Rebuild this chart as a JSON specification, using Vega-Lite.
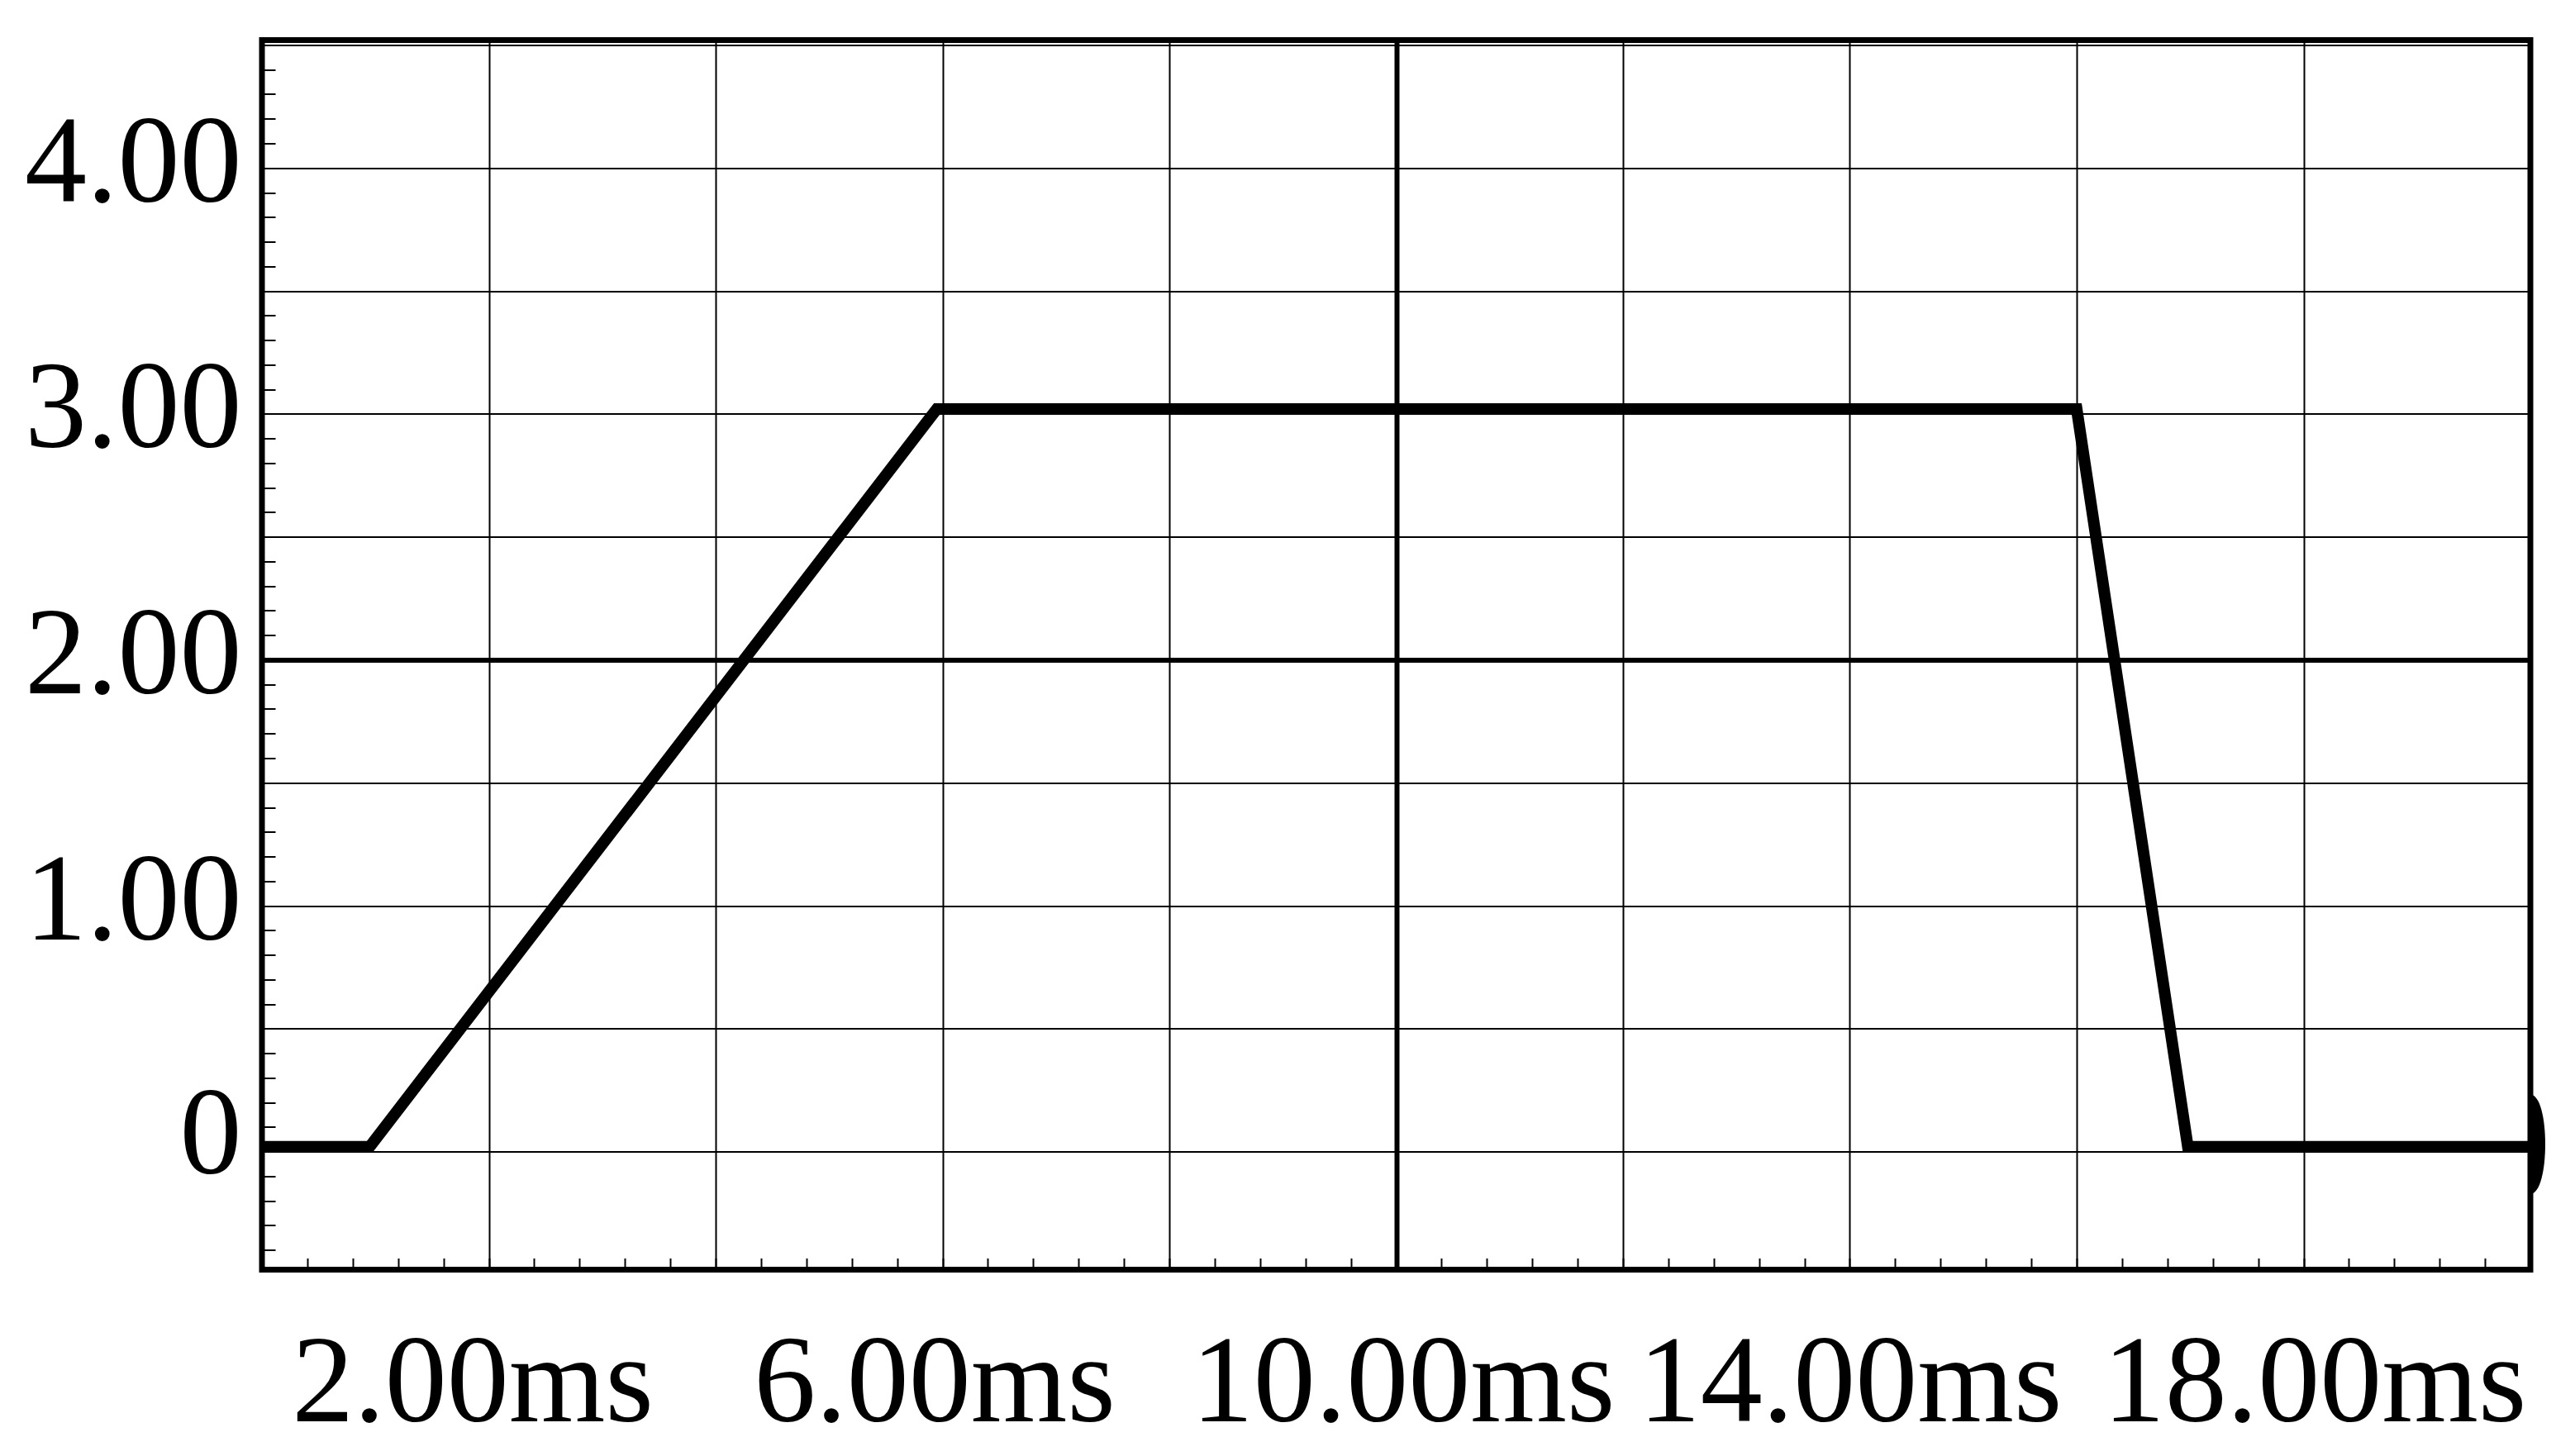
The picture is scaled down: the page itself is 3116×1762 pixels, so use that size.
{
  "$schema": "https://vega.github.io/schema/vega-lite/v6.json",
  "autosize": {"type": "none"},
  "padding": {"left": 317, "top": 48.5, "right": 54, "bottom": 225.5},
  "width": 2745,
  "height": 1488,
  "background": "white",
  "config": {
    "view": {"stroke": "black", "strokeWidth": 7},
    "axis": {"labelFont": "Liberation Serif", "labelFontSize": 150, "labelColor": "black", "domain": false, "labelLimit": 0}
  },
  "datasets": {
    "trace": [
      {"t": 0, "v": 0.02},
      {"t": 0.95, "v": 0.02},
      {"t": 5.95, "v": 3.02},
      {"t": 16.0, "v": 3.02},
      {"t": 16.98, "v": 0.02},
      {"t": 20, "v": 0.02}
    ],
    "marker": [{"t": 20, "v": 0.03}]
  },
  "encoding": {
    "x": {
      "field": "t", "type": "quantitative",
      "scale": {"domain": [0, 20], "nice": false, "zero": false},
      "axis": {
        "title": null,
        "orient": "bottom",
        "values": [0.4,0.8,1.2,1.6,2,2.4,2.8,3.2,3.6,4,4.4,4.8,5.2,5.6,6,6.4,6.8,7.2,7.6,8,8.4,8.8,9.2,9.6,10,10.4,10.8,11.2,11.6,12,12.4,12.8,13.2,13.6,14,14.4,14.8,15.2,15.6,16,16.4,16.8,17.2,17.6,18,18.4,18.8,19.2,19.6],
        "grid": true,
        "gridColor": "black",
        "gridOpacity": {"condition": {"test": "abs(datum.value/2 - round(datum.value/2)) < 0.001", "value": 1}, "value": 0},
        "gridWidth": {"condition": {"test": "abs(datum.value - 10) < 0.001", "value": 6}, "value": 2},
        "ticks": true,
        "tickSize": -14,
        "tickWidth": 2,
        "tickColor": "black",
        "labelExpr": "abs((datum.value - 2)/4 - round((datum.value - 2)/4)) < 0.001 ? format(datum.value, '.2f') + 'ms' : ''",
        "labelBaseline": "alphabetic",
        "labelAlign": "center",
        "labelPadding": 196.5,
        "labelFlush": false,
        "labelOverlap": false,
        "labelBound": false,
        "labelLimit": 0,
        "labelOffset": {"condition": [
          {"test": "abs(datum.value - 2) < 0.01", "value": -20},
          {"test": "abs(datum.value - 6) < 0.01", "value": -10},
          {"test": "abs(datum.value - 10) < 0.01", "value": 8},
          {"test": "abs(datum.value - 18) < 0.01", "value": 13}
        ], "value": 0}
      }
    },
    "y": {
      "field": "v", "type": "quantitative",
      "scale": {"domain": [-0.48, 4.52], "nice": false, "zero": false},
      "axis": {
        "title": null,
        "orient": "left",
        "values": [-0.4,-0.3,-0.2,-0.1,0,0.1,0.2,0.3,0.4,0.5,0.6,0.7,0.8,0.9,1,1.1,1.2,1.3,1.4,1.5,1.6,1.7,1.8,1.9,2,2.1,2.2,2.3,2.4,2.5,2.6,2.7,2.8,2.9,3,3.1,3.2,3.3,3.4,3.5,3.6,3.7,3.8,3.9,4,4.1,4.2,4.3,4.4,4.5],
        "grid": true,
        "gridColor": "black",
        "gridOpacity": {"condition": {"test": "abs(datum.value*2 - round(datum.value*2)) < 0.001", "value": 1}, "value": 0},
        "gridWidth": {"condition": {"test": "abs(datum.value - 2) < 0.001", "value": 6}, "value": 2},
        "ticks": true,
        "tickSize": -16,
        "tickWidth": 2,
        "tickColor": "black",
        "labelExpr": "abs(datum.value - round(datum.value)) < 0.001 ? (abs(datum.value) < 0.001 ? '0' : format(datum.value, '.2f')) : ''",
        "labelBaseline": "alphabetic",
        "labelAlign": "right",
        "labelPadding": 41,
        "labelFlush": false,
        "labelOverlap": false,
        "labelBound": false,
        "labelLimit": 0,
        "labelOffset": {"condition": {"test": "abs(datum.value) < 0.001", "value": 26}, "value": 40}
      }
    }
  },
  "layer": [
    {
      "data": {"name": "trace"},
      "mark": {"type": "line", "color": "black", "strokeWidth": 14, "strokeJoin": "miter", "strokeCap": "butt", "clip": true}
    },
    {
      "data": {"name": "marker"},
      "mark": {"type": "point", "shape": "M0,-1 C0.4,-1 0.4,1 0,1 Z", "size": 14400, "filled": true, "color": "black", "opacity": 1, "strokeWidth": 0}
    }
  ]
}
